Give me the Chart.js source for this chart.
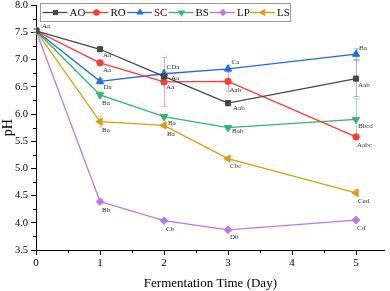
<!DOCTYPE html>
<html>
<head>
<meta charset="utf-8">
<script src="https://cdn.jsdelivr.net/npm/chart.js@4/dist/chart.umd.min.js"></script>
<style>
html,body{margin:0;padding:0;background:#fff;}
canvas{display:block;}
</style>
</head>
<body>
<canvas id="c" width="390" height="291"></canvas>
<script>
// ---- data ----
const days = [0, 1, 2, 3, 5];
const seriesNames = ['AO', 'RO', 'SC', 'BS', 'LP', 'LS'];
const AO = [7.53, 7.19, 6.69, 6.20, 6.65];
const RO = [7.53, 6.94, 6.59, 6.60, 5.58];
const SC = [7.53, 6.60, 6.74, 6.83, 7.10];
const BS = [7.53, 6.35, 5.95, 5.75, 5.90];
const LP = [7.53, 4.39, 4.04, 3.87, 4.05];
const LS = [7.53, 5.86, 5.79, 5.18, 4.55];
const AO_err = [0.03, 0.03, 0.04, 0.05, 0.33];
const RO_err = [0.03, 0.04, 0.45, 0.18, 0.04];
const SC_err = [0.03, 0.05, 0.07, 0.06, 0.10];
const BS_err = [0.03, 0.06, 0.04, 0.03, 0.38];
const LP_err = [0.03, 0.04, 0.03, 0.03, 0.03];
const LS_err = [0.03, 0.10, 0.04, 0.03, 0.06];
const AO_lbl = ['Aa', 'Aa', 'Aa', 'Aab', 'Aab'];
const RO_lbl = ['', 'Aa', 'Aa', 'Aab', 'Aabc'];
const SC_lbl = ['', 'Da', 'CDa', 'Ca', 'Ba'];
const BS_lbl = ['', 'Ba', 'Ba', 'Bab', 'Bbcd'];
const LP_lbl = ['', 'Bb', 'Cb', 'Db', 'Cd'];
const LS_lbl = ['', 'Ba', 'Ba', 'Cbc', 'Ced'];
const yTicks = [3.5, 4.0, 4.5, 5.0, 5.5, 6.0, 6.5, 7.0, 7.5, 8.0];
const xTicks = [0, 1, 2, 3, 4, 5];

// ---- styles (label offsets in px, not data) ----
const labelOffsets = {
  AO: [[6,-5],[3,6],[7,1.5],[5,5],[2,7]],
  RO: [[0,0],[3,7],[2,5],[1.5,9],[1,8.5]],
  SC: [[0,0],[3.5,5.5],[2.5,-6.3],[3.5,-6.5],[3,-6.3]],
  BS: [[0,0],[2,8],[4,6],[4,4],[2,6.5]],
  LP: [[0,0],[2,9],[2,8.5],[2,7],[1,8.3]],
  LS: [[0,0],[2,9],[3,9],[2,7.5],[2,8]]
};
const styles = {
  AO: {color:'#474747', err:'rgba(90,90,90,0.45)', pointStyle:'rect', radius:3.6, rotation:0},
  RO: {color:'#ff3b3b', err:'rgba(255,80,80,0.5)', pointStyle:'circle', radius:3.2, rotation:0},
  SC: {color:'#1e6ce6', err:'rgba(40,110,230,0.45)', pointStyle:'triangle', radius:4.2, rotation:0},
  BS: {color:'#35b46e', err:'rgba(60,180,110,0.45)', pointStyle:'triangle', radius:4.2, rotation:180},
  LP: {color:'#b57ae8', err:'rgba(180,120,232,0.45)', pointStyle:'rectRot', radius:3.8, rotation:0},
  LS: {color:'#d6a010', err:'rgba(214,160,16,0.45)', pointStyle:'triangle', radius:4.2, rotation:-90}
};
const values = {AO, RO, SC, BS, LP, LS};
const errors = {AO:AO_err, RO:RO_err, SC:SC_err, BS:BS_err, LP:LP_err, LS:LS_err};
const labels = {AO:AO_lbl, RO:RO_lbl, SC:SC_lbl, BS:BS_lbl, LP:LP_lbl, LS:LS_lbl};

const SERIF = '"Liberation Serif", "Times New Roman", serif';
const X_MAX = 5.45;

const datasets = seriesNames.map(name => ({
  label: name,
  data: days.map((d, i) => ({x: d, y: values[name][i]})),
  borderColor: styles[name].color,
  backgroundColor: styles[name].color,
  pointBackgroundColor: styles[name].color,
  pointBorderColor: styles[name].color,
  pointStyle: styles[name].pointStyle,
  pointRadius: styles[name].radius,
  pointRotation: styles[name].rotation,
  pointBorderWidth: 1,
  borderWidth: 1.3,
  tension: 0,
  fill: false
}));

function drawMarker(ctx, style, x, y, r, rot, color) {
  ctx.save();
  ctx.fillStyle = color;
  ctx.strokeStyle = color;
  ctx.beginPath();
  if (style === 'circle') {
    ctx.arc(x, y, r, 0, Math.PI * 2);
  } else if (style === 'rect') {
    const s = Math.SQRT1_2 * r;
    ctx.rect(x - s, y - s, 2 * s, 2 * s);
  } else if (style === 'rectRot') {
    ctx.moveTo(x, y - r); ctx.lineTo(x + r, y); ctx.lineTo(x, y + r); ctx.lineTo(x - r, y); ctx.closePath();
  } else if (style === 'triangle') {
    let rad = rot * Math.PI / 180;
    ctx.moveTo(x + Math.sin(rad) * r, y - Math.cos(rad) * r);
    rad += 2 * Math.PI / 3;
    ctx.lineTo(x + Math.sin(rad) * r, y - Math.cos(rad) * r);
    rad += 2 * Math.PI / 3;
    ctx.lineTo(x + Math.sin(rad) * r, y - Math.cos(rad) * r);
    ctx.closePath();
  }
  ctx.fill();
  ctx.restore();
}

const errorBarPlugin = {
  id: 'errorBars',
  beforeDatasetsDraw(chart) {
    const ctx = chart.ctx, xs = chart.scales.x, ys = chart.scales.y;
    ctx.save();
    ctx.lineWidth = 1;
    seriesNames.forEach(name => {
      ctx.strokeStyle = styles[name].err;
      days.forEach((d, i) => {
        const e = errors[name][i];
        const px = Math.round(xs.getPixelForValue(d)) + 0.5;
        const top = ys.getPixelForValue(values[name][i] + e);
        const bot = ys.getPixelForValue(values[name][i] - e);
        ctx.beginPath();
        ctx.moveTo(px, top); ctx.lineTo(px, bot);
        ctx.moveTo(px - 3, top); ctx.lineTo(px + 3, top);
        ctx.moveTo(px - 3, bot); ctx.lineTo(px + 3, bot);
        ctx.stroke();
      });
    });
    ctx.restore();
  }
};

const pointLabelPlugin = {
  id: 'pointLabels',
  afterDatasetsDraw(chart) {
    const ctx = chart.ctx, xs = chart.scales.x, ys = chart.scales.y;
    ctx.save();
    ctx.font = '7px ' + SERIF;
    ctx.fillStyle = '#333';
    ctx.textAlign = 'left';
    ctx.textBaseline = 'middle';
    seriesNames.forEach(name => {
      days.forEach((d, i) => {
        const t = labels[name][i];
        if (!t) return;
        const off = labelOffsets[name][i];
        ctx.fillText(t, xs.getPixelForValue(d) + off[0], ys.getPixelForValue(values[name][i]) + off[1]);
      });
    });
    ctx.restore();
  }
};

const minorTickPlugin = {
  id: 'minorTicks',
  afterDraw(chart) {
    const ctx = chart.ctx, xs = chart.scales.x, ys = chart.scales.y, a = chart.chartArea;
    ctx.save();
    ctx.strokeStyle = '#000';
    ctx.lineWidth = 1;
    ctx.beginPath();
    for (let i = 0; i < yTicks.length - 1; i++) {
      const v = (yTicks[i] + yTicks[i + 1]) / 2;
      const py = Math.round(ys.getPixelForValue(v)) + 0.5;
      ctx.moveTo(a.left, py); ctx.lineTo(a.left - 3, py);
    }
    for (let i = 0; i < xTicks.length; i++) {
      const v = xTicks[i] + 0.5;
      if (v > X_MAX) continue;
      const px = Math.round(xs.getPixelForValue(v)) + 0.5;
      ctx.moveTo(px, a.bottom); ctx.lineTo(px, a.bottom + 3);
    }
    ctx.stroke();
    ctx.restore();
  }
};

const legendTextX = [69.5, 110.5, 154, 195.5, 237, 277];
const legendPlugin = {
  id: 'boxLegend',
  afterDraw(chart) {
    const ctx = chart.ctx;
    ctx.save();
    ctx.fillStyle = '#fff';
    ctx.fillRect(40.5, 3.5, 250, 18);
    ctx.strokeStyle = '#999';
    ctx.lineWidth = 1;
    ctx.strokeRect(40.5, 3.5, 250, 18);
    ctx.font = '11px ' + SERIF;
    ctx.textAlign = 'left';
    ctx.textBaseline = 'middle';
    seriesNames.forEach((name, i) => {
      const tx = legendTextX[i];
      const st = styles[name];
      const ly = 12.5;
      ctx.strokeStyle = st.color;
      ctx.lineWidth = 1.3;
      ctx.beginPath();
      ctx.moveTo(tx - 27, ly); ctx.lineTo(tx - 2, ly);
      ctx.stroke();
      drawMarker(ctx, st.pointStyle, tx - 14, ly, st.radius, st.rotation, st.color);
      ctx.fillStyle = '#111';
      ctx.fillText(name, tx, ly + 0.5);
    });
    ctx.restore();
  }
};

new Chart(document.getElementById('c'), {
  type: 'line',
  data: { datasets },
  options: {
    responsive: false,
    devicePixelRatio: 1,
    animation: false,
    layout: { padding: { top: 5, right: 2, left: 0, bottom: 0 } },
    plugins: { legend: { display: false }, tooltip: { enabled: false } },
    scales: {
      x: {
        type: 'linear',
        min: 0, max: X_MAX,
        afterBuildTicks(scale) { scale.ticks = xTicks.map(v => ({value: v})); },
        afterFit(scale) { scale.height = 41; scale.paddingLeft = 0; scale.paddingRight = 0; },
        ticks: { stepSize: 1, color: '#000', font: { family: SERIF, size: 11 }, padding: 2, maxRotation: 0 },
        grid: { drawOnChartArea: false, drawTicks: true, tickLength: 5, color: '#000', lineWidth: 1 },
        border: { color: '#000', width: 1 },
        title: { display: true, text: 'Fermentation Time (Day)', color: '#000', font: { family: SERIF, size: 13 }, padding: { top: 0, bottom: 0 } }
      },
      y: {
        type: 'linear',
        min: 3.5, max: 8,
        afterBuildTicks(scale) { scale.ticks = yTicks.map(v => ({value: v})); },
        afterFit(scale) { scale.width = 36; scale.paddingTop = 0; scale.paddingBottom = 0; },
        ticks: { stepSize: 0.5, color: '#000', font: { family: SERIF, size: 10.5 }, padding: 3, callback: v => Number(v).toFixed(1) },
        grid: { drawOnChartArea: false, drawTicks: true, tickLength: 5, color: '#000', lineWidth: 1 },
        border: { color: '#000', width: 1 },
        title: { display: true, text: 'pH', color: '#000', font: { family: SERIF, size: 14 }, padding: { top: 0, bottom: 0 } }
      }
    }
  },
  plugins: [errorBarPlugin, pointLabelPlugin, minorTickPlugin, legendPlugin]
});
</script>
</body>
</html>
